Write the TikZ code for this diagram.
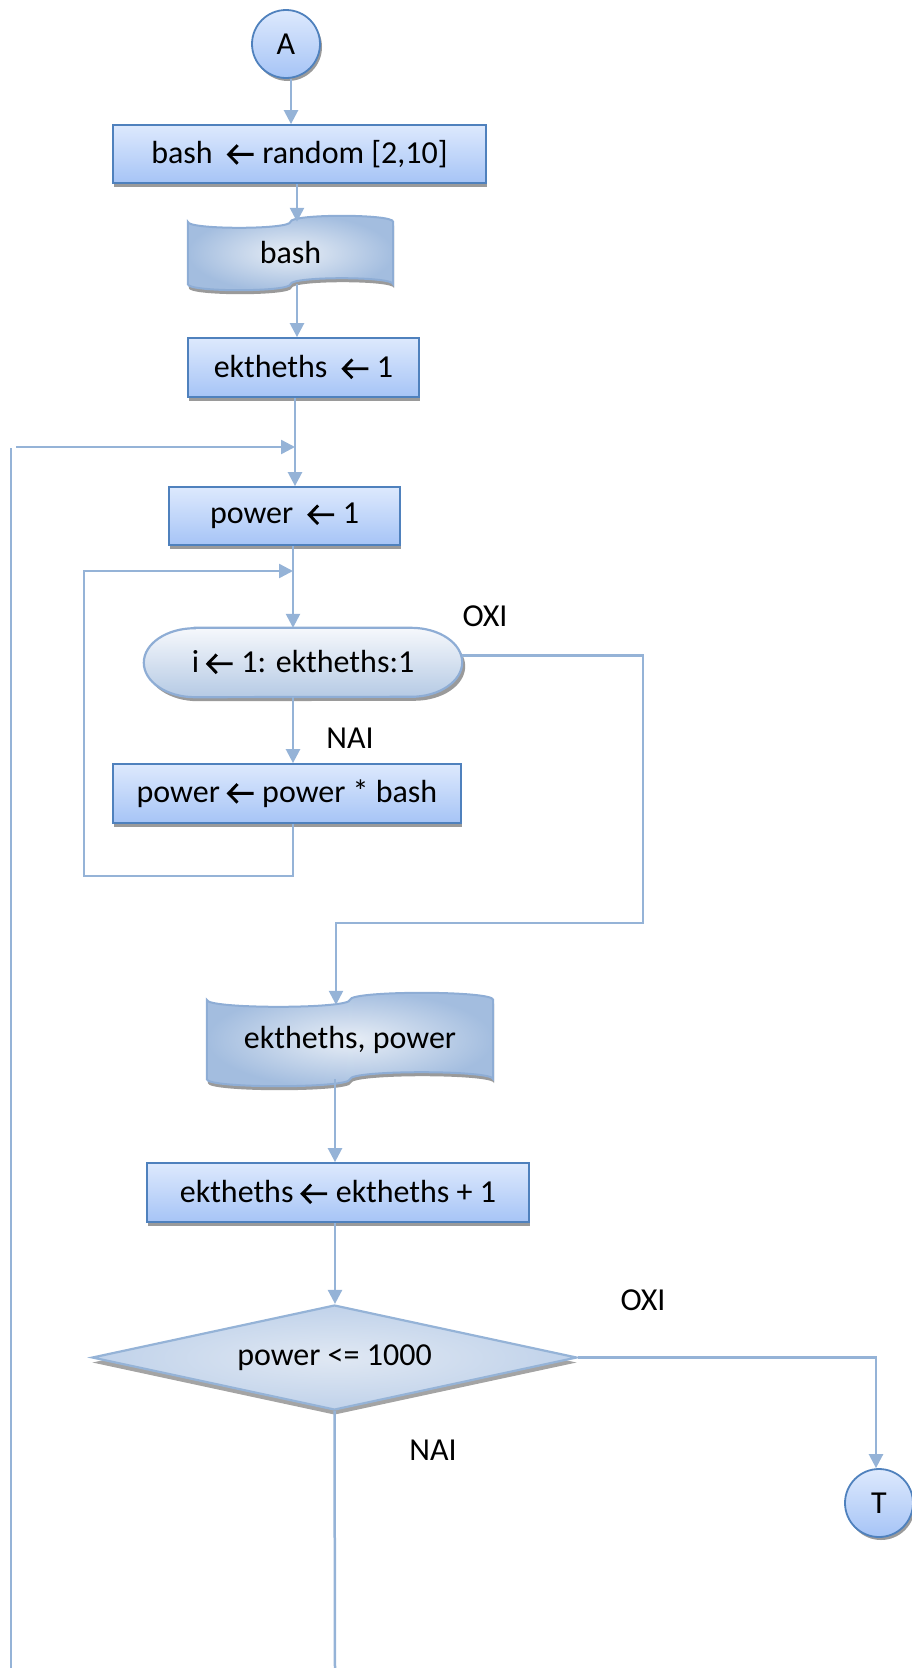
\documentclass[tikz,border=0pt]{standalone}
\usepackage{fontspec}
\setmainfont{Carlito}
\usetikzlibrary{shapes.geometric,shadows,arrows.meta,calc,backgrounds}

\definecolor{lineblue}{HTML}{95B3D7}
\definecolor{boxedge}{HTML}{4F81BD}
\definecolor{boxtop}{HTML}{DDE9FD}
\definecolor{boxbot}{HTML}{A6C4F6}
\definecolor{shadowgray}{HTML}{9A9A9A}
\definecolor{softedge}{HTML}{8EADD5}
\definecolor{tapein}{HTML}{E8EEF6}
\definecolor{tapeout}{HTML}{A3BDDF}
\definecolor{looptop}{HTML}{F6F8FC}
\definecolor{loopbot}{HTML}{B5CAE4}
\definecolor{diamin}{HTML}{E0E8F3}
\definecolor{diamout}{HTML}{C0D2EA}

\newcommand{\fsz}{\fontsize{32pt}{38pt}\selectfont}
\newsavebox{\arrbox}

% punched-tape outline around a node: #1 node, #2 wave depth, #3 path options
\newcommand{\drawtape}[3]{%
  \path[#3] (#1.north west)
    .. controls ($(#1.north west)+(0,4*#2/3)$) and ($(#1.north)+(0,4*#2/3)$) .. (#1.north)
    .. controls ($(#1.north)+(0,-4*#2/3)$) and ($(#1.north east)+(0,-4*#2/3)$) .. (#1.north east)
    -- (#1.south east)
    .. controls ($(#1.south east)+(0,-4*#2/3)$) and ($(#1.south)+(0,-4*#2/3)$) .. (#1.south)
    .. controls ($(#1.south)+(0,4*#2/3)$) and ($(#1.south west)+(0,4*#2/3)$) .. (#1.south west)
    -- cycle;}

% terminator outline with elliptic ends: #1 node, #2 path options
\newcommand{\drawstadium}[2]{%
  \path[#2] ($(#1.north west)+(51,0)$) -- ($(#1.north east)+(-51,0)$)
    arc[start angle=90,end angle=-90,x radius=51pt,y radius=34.5pt]
    -- ($(#1.south west)+(51,0)$)
    arc[start angle=270,end angle=90,x radius=51pt,y radius=34.5pt] -- cycle;}

\tikzset{
  conn/.style={draw=lineblue, line width=2.5pt},
  arr/.style={conn, -{Triangle[length=14pt,width=14pt]}},
  procbox/.style={rectangle, draw=boxedge, line width=1.8pt,
    top color=boxtop, bottom color=boxbot, inner sep=0pt, font=\fsz,
    drop shadow={shadow xshift=0.5pt, shadow yshift=-4pt, fill=shadowgray, opacity=1}},
  termcirc/.style={circle, draw=boxedge, line width=1.8pt, minimum size=68pt,
    top color=boxtop, bottom color=boxbot, inner sep=0pt, font=\fsz,
    drop shadow={shadow xshift=2pt, shadow yshift=-3pt, fill=shadowgray, opacity=1}},
  plaintext/.style={rectangle, inner sep=0pt, font=\fsz},
  decision/.style={diamond, draw=lineblue, line width=2.2pt, aspect=4.6,
    inner color=diamin, outer color=diamout, inner sep=0pt, font=\fsz,
    drop shadow={shadow xshift=0pt, shadow yshift=-5pt, fill=shadowgray!90, opacity=1}},
  lbl/.style={inner sep=0pt, font=\fsz}
}

\begin{document}
\begin{tikzpicture}[x=1pt,y=-1pt]
% left arrow glyph used inside the assignment texts
\global\sbox{\arrbox}{\fsz\tikz[baseline=0pt]\draw[black,line width=0.09em,line cap=butt,line join=miter]
  (0.84em,0.28em) -- (0.06em,0.28em) (0.34em,0.57em) -- (0.06em,0.28em) -- (0.34em,-0.01em);}%
\pgfresetboundingbox
\useasboundingbox (0,0) rectangle (911,1668);

% flow blocks
\node[termcirc] (A) at (286,44) {A};
\node[procbox, minimum width=373, minimum height=58] (b1) at (299.5,154) {bash\ \ \usebox{\arrbox}\ random [2,10]};
\node[plaintext, minimum width=205, minimum height=62] (d1) at (290.5,253) {bash};
\node[procbox, minimum width=231, minimum height=59] (b2) at (303.5,367.5) {ektheths\ \ \usebox{\arrbox}\ 1};
\node[procbox, minimum width=231, minimum height=58] (b3) at (284.5,516) {power\ \ \usebox{\arrbox}\ 1};
\node[plaintext, minimum width=318, minimum height=69] (L) at (303,662.5) {i \usebox{\arrbox}\ 1: ektheths:1};
\node[procbox, minimum width=348, minimum height=59] (b4) at (287,793.5) {power \usebox{\arrbox}\ power * bash};
\node[plaintext, minimum width=286, minimum height=79] (d2) at (350,1039.5) {ektheths, power};
\node[procbox, minimum width=382, minimum height=59] (b5) at (338,1192.5) {ektheths \usebox{\arrbox}\ ektheths + 1};
\node[decision, minimum width=485, minimum height=105] (D) at (334.5,1357.5) {power <= 1000};
\node[termcirc] (T) at (879,1503) {T};

% shaped outlines drawn behind their texts
\begin{scope}[on background layer]
  \drawtape{d1}{6}{fill=shadowgray, transform canvas={xshift=1pt,yshift=-4pt}}
  \drawtape{d1}{6}{draw=softedge, line width=2pt, inner color=tapein, outer color=tapeout}
  \drawtape{d2}{7}{fill=shadowgray, transform canvas={xshift=1pt,yshift=-4pt}}
  \drawtape{d2}{7}{draw=softedge, line width=2pt, inner color=tapein, outer color=tapeout}
  \drawstadium{L}{fill=shadowgray, transform canvas={xshift=3pt,yshift=-4pt}}
  \drawstadium{L}{draw=softedge, line width=2.2pt, top color=looptop, bottom color=loopbot}
\end{scope}

% branch labels
\node[lbl] (oxi1) at (485,616) {OXI};
\node[lbl] (nai1) at (350,738) {NAI};
\node[lbl] (oxi2) at (643,1300) {OXI};
\node[lbl] (nai2) at (433,1450) {NAI};

% spine positions and loop corners
\coordinate (xa) at (291,0);
\coordinate (xb) at (297,0);
\coordinate (xc) at (295,0);
\coordinate (xd) at (293,0);
\coordinate (xe) at (336,0);
\coordinate (xf) at (335,0);
\coordinate (xg) at (876,0);
\coordinate (olb) at (11,1668);
\coordinate (olt) at (11,448);
\coordinate (ols) at (16,447);
\coordinate (ilb) at (84,876);
\coordinate (ilt) at (84,571);
\coordinate (rr) at (643,923);
\coordinate (nb) at (335,1668);

% connectors
\draw[arr] (A.south -| xa) -- (b1.north -| xa);
\draw[arr] (b1.south -| xb) -- (d1.north -| xb);
\draw[arr] (d1.south -| xb) -- (b2.north -| xb);
\draw[arr] (b2.south -| xc) -- (b3.north -| xc);
\draw[conn] (olb) -- (olt);
\draw[arr] (ols) -- (ols -| xc);
\draw[arr] (b3.south -| xd) -- (L.north -| xd);
\draw[arr] (L.south -| xd) -- (b4.north -| xd);
\draw[arr] (b4.south -| xd) |- (ilb) -- (ilt) -- (ilt -| xd);
\draw[arr] ([yshift=7pt]L.east) -| (rr) -| ([yshift=-5pt]d2.north -| xe);
\draw[arr] (d2.south -| xf) -- (b5.north -| xf);
\draw[arr] (b5.south -| xf) -- (D.north -| xf);
\draw[arr] (D.east) -| (T.north -| xg);
\draw[conn] (D.south) -- (nb);
\end{tikzpicture}
\end{document}
